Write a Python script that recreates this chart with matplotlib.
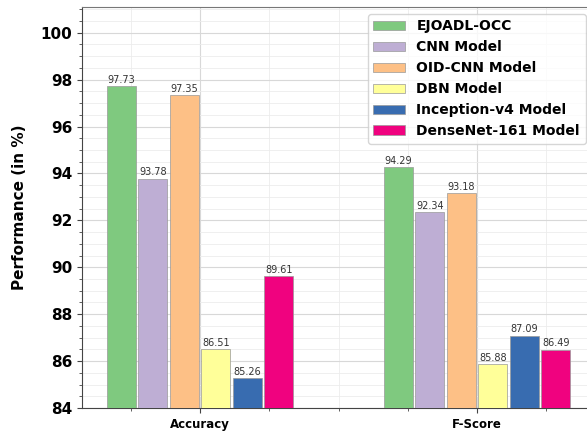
import matplotlib
matplotlib.use("Agg")
import matplotlib.pyplot as plt
import numpy as np
from matplotlib.ticker import MultipleLocator, FixedLocator

categories = ["Accuracy", "F-Score"]
models = ["EJOADL-OCC", "CNN Model", "OID-CNN Model", "DBN Model",
          "Inception-v4 Model", "DenseNet-161 Model"]
accuracy = [97.73, 93.78, 97.35, 86.51, 85.26, 89.61]
fscore = [94.29, 92.34, 93.18, 85.88, 87.09, 86.49]
colors = ["#7fc97f", "#beaed4", "#fdc086", "#ffff99", "#386cb0", "#f0027f"]

values = np.array([accuracy, fscore])  # shape (groups, models)

fig = plt.figure(figsize=(5.87, 4.36), dpi=100)
ax = fig.add_axes([0.1397, 0.0642, 0.874, 0.9198])

x = np.arange(len(categories))
pitch = 0.1137
width = 0.104
for i, m in enumerate(models):
    pos = x + (i - 2.5) * pitch
    bars = ax.bar(pos, values[:, i], width=width, color=colors[i],
                  edgecolor="#999999", linewidth=0.5, label=m, zorder=3)
    for b, v in zip(bars, values[:, i]):
        ax.text(b.get_x() + b.get_width() / 2, v + 0.05, f"{v:.2f}",
                ha="center", va="bottom", fontsize=7, color="#333333", zorder=4)

ax.set_ylim(84, 101.1)
ax.set_xlim(-0.426, 1.426)
ax.yaxis.set_major_locator(MultipleLocator(2))
ax.yaxis.set_minor_locator(MultipleLocator(0.5))
ax.set_xticks(x)
ax.set_xticklabels(categories, fontsize=8.5, fontweight="bold")
ax.xaxis.set_minor_locator(MultipleLocator(0.25))
for lbl in ax.get_yticklabels():
    lbl.set_fontweight("bold")
    lbl.set_fontsize(11)
ax.set_ylabel("Performance (in %)", fontsize=11, fontweight="bold", labelpad=10)

ax.grid(which="major", color="#d8d8d8", linewidth=0.8, zorder=0)
ax.grid(which="minor", color="#ececec", linewidth=0.6, zorder=0)
ax.set_axisbelow(True)
for s in ["left", "bottom"]:
    ax.spines[s].set_color("#444444")
ax.spines["top"].set_color("#777777")
ax.tick_params(axis="both", which="both", color="#444444")

leg = ax.legend(loc="upper right", bbox_to_anchor=(0.995, 1.0),
                prop={"weight": "bold", "size": 10}, handlelength=2.3,
                frameon=True, edgecolor="#cccccc", fancybox=True)

fig.savefig("out.png", dpi=100)
